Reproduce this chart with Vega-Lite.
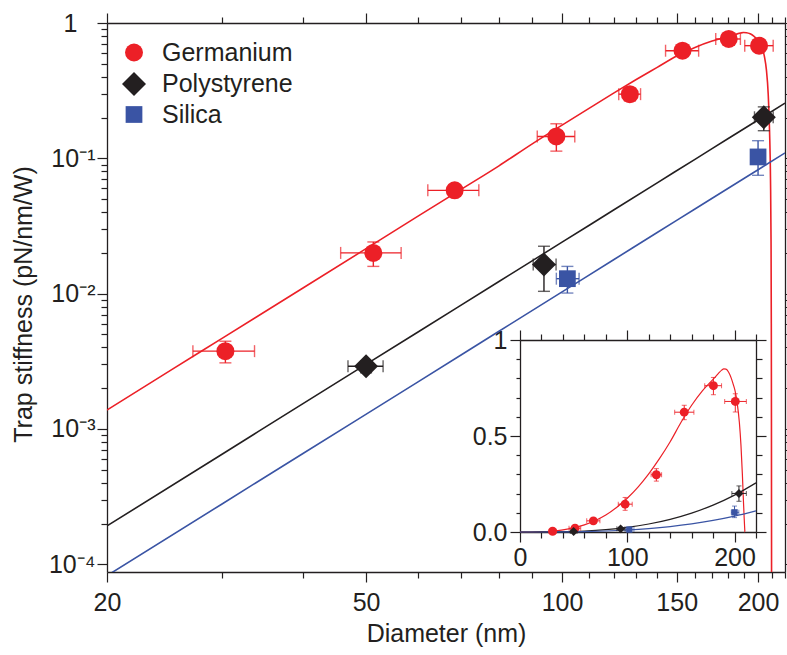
{
  "$schema": "https://vega.github.io/schema/vega-lite/v6.json",
  "width": 678,
  "height": 549,
  "autosize": {"type": "none"},
  "padding": {"left": 107, "top": 23, "right": 2, "bottom": 83},
  "background": "white",
  "datasets": {
    "curves": [
      {"material": "Germanium", "d": 0, "k": 0},
      {"material": "Germanium", "d": 20, "k": 0.00138},
      {"material": "Germanium", "d": 25, "k": 0.0027},
      {"material": "Germanium", "d": 30, "k": 0.00465},
      {"material": "Germanium", "d": 40, "k": 0.011},
      {"material": "Germanium", "d": 50, "k": 0.0215},
      {"material": "Germanium", "d": 60, "k": 0.0372},
      {"material": "Germanium", "d": 70, "k": 0.059},
      {"material": "Germanium", "d": 80, "k": 0.088},
      {"material": "Germanium", "d": 90, "k": 0.128},
      {"material": "Germanium", "d": 100, "k": 0.176},
      {"material": "Germanium", "d": 110, "k": 0.234},
      {"material": "Germanium", "d": 120, "k": 0.303},
      {"material": "Germanium", "d": 130, "k": 0.382},
      {"material": "Germanium", "d": 140, "k": 0.47},
      {"material": "Germanium", "d": 150, "k": 0.57},
      {"material": "Germanium", "d": 160, "k": 0.66},
      {"material": "Germanium", "d": 170, "k": 0.735},
      {"material": "Germanium", "d": 180, "k": 0.795},
      {"material": "Germanium", "d": 185, "k": 0.826},
      {"material": "Germanium", "d": 188, "k": 0.843},
      {"material": "Germanium", "d": 190, "k": 0.85},
      {"material": "Germanium", "d": 192, "k": 0.848},
      {"material": "Germanium", "d": 194.5, "k": 0.832},
      {"material": "Germanium", "d": 197, "k": 0.8},
      {"material": "Germanium", "d": 199, "k": 0.765},
      {"material": "Germanium", "d": 200.5, "k": 0.735},
      {"material": "Germanium", "d": 202.5, "k": 0.67},
      {"material": "Germanium", "d": 204.5, "k": 0.57},
      {"material": "Germanium", "d": 206, "k": 0.45},
      {"material": "Germanium", "d": 207.3, "k": 0.3},
      {"material": "Germanium", "d": 208.3, "k": 0.16},
      {"material": "Germanium", "d": 209, "k": 0.07},
      {"material": "Germanium", "d": 209.4, "k": 0.025},
      {"material": "Germanium", "d": 209.6, "k": 0.006},
      {"material": "Germanium", "d": 209.7, "k": 0.0012},
      {"material": "Germanium", "d": 209.76, "k": 0.0002},
      {"material": "Germanium", "d": 209.8, "k": 0.00005},
      {"material": "Polystyrene", "d": 0, "k": 0},
      {"material": "Polystyrene", "d": 20, "k": 0.000192},
      {"material": "Polystyrene", "d": 30, "k": 0.000648},
      {"material": "Polystyrene", "d": 40, "k": 0.00154},
      {"material": "Polystyrene", "d": 60, "k": 0.00518},
      {"material": "Polystyrene", "d": 80, "k": 0.0123},
      {"material": "Polystyrene", "d": 100, "k": 0.024},
      {"material": "Polystyrene", "d": 120, "k": 0.0415},
      {"material": "Polystyrene", "d": 140, "k": 0.0659},
      {"material": "Polystyrene", "d": 160, "k": 0.0983},
      {"material": "Polystyrene", "d": 180, "k": 0.14},
      {"material": "Polystyrene", "d": 200, "k": 0.192},
      {"material": "Polystyrene", "d": 220, "k": 0.256},
      {"material": "Silica", "d": 0, "k": 0},
      {"material": "Silica", "d": 20, "k": 0.0000824},
      {"material": "Silica", "d": 30, "k": 0.000278},
      {"material": "Silica", "d": 40, "k": 0.000659},
      {"material": "Silica", "d": 60, "k": 0.00222},
      {"material": "Silica", "d": 80, "k": 0.00527},
      {"material": "Silica", "d": 100, "k": 0.0103},
      {"material": "Silica", "d": 120, "k": 0.0178},
      {"material": "Silica", "d": 140, "k": 0.0283},
      {"material": "Silica", "d": 160, "k": 0.0422},
      {"material": "Silica", "d": 180, "k": 0.0601},
      {"material": "Silica", "d": 200, "k": 0.0824},
      {"material": "Silica", "d": 220, "k": 0.1097}
    ],
    "points": [
      {"material": "Germanium", "d": 30.4, "dlo": 27.1, "dhi": 33.7, "k": 0.00376, "klo": 0.00308, "khi": 0.00445},
      {"material": "Germanium", "d": 51.3, "dlo": 45.7, "dhi": 56.6, "k": 0.02, "klo": 0.0159, "khi": 0.0241},
      {"material": "Germanium", "d": 68.4, "dlo": 62.2, "dhi": 74.5, "k": 0.058, "klo": 0.053, "khi": 0.063},
      {"material": "Germanium", "d": 98, "dlo": 91.6, "dhi": 104.6, "k": 0.145, "klo": 0.113, "khi": 0.18},
      {"material": "Germanium", "d": 127.1, "dlo": 122.2, "dhi": 132, "k": 0.298, "klo": 0.265, "khi": 0.33},
      {"material": "Germanium", "d": 153.1, "dlo": 144.2, "dhi": 162.1, "k": 0.624, "klo": 0.585, "khi": 0.66},
      {"material": "Germanium", "d": 180.3, "dlo": 172.2, "dhi": 187.9, "k": 0.762, "klo": 0.715, "khi": 0.805},
      {"material": "Germanium", "d": 200.7, "dlo": 190.8, "dhi": 211, "k": 0.68, "klo": 0.625, "khi": 0.72},
      {"material": "Polystyrene", "d": 50, "dlo": 46.9, "dhi": 53.1, "k": 0.00291, "klo": 0.0026, "khi": 0.0032},
      {"material": "Polystyrene", "d": 93.8, "dlo": 90.3, "dhi": 97.9, "k": 0.0164, "klo": 0.0104, "khi": 0.0224},
      {"material": "Polystyrene", "d": 204.1, "dlo": 197.5, "dhi": 211, "k": 0.201, "klo": 0.16, "khi": 0.24},
      {"material": "Silica", "d": 101.9, "dlo": 98, "dhi": 106.2, "k": 0.0129, "klo": 0.0101, "khi": 0.0159},
      {"material": "Silica", "d": 200, "dlo": 197, "dhi": 204, "k": 0.1024, "klo": 0.0749, "khi": 0.135}
    ]
  },
  "config": {
    "font": "Liberation Sans",
    "view": {"stroke": null},
    "axis": {
      "grid": false,
      "domainColor": "#231f20",
      "domainWidth": 1.3,
      "tickColor": "#231f20",
      "tickWidth": 1.2,
      "labelColor": "#231f20",
      "titleColor": "#231f20",
      "labelFont": "Liberation Sans",
      "titleFont": "Liberation Sans",
      "labelFontSize": 25,
      "titleFontSize": 25,
      "titleFontWeight": "normal",
      "labelFlush": false,
      "labelOverlap": false
    },
    "legend": {
      "labelFont": "Liberation Sans",
      "labelFontSize": 25,
      "labelColor": "#231f20",
      "labelOffset": 15,
      "rowPadding": 5,
      "padding": 0
    }
  },
  "resolve": {
    "scale": {"x": "independent", "y": "independent"},
    "axis": {"x": "independent", "y": "independent"},
    "legend": {"color": "independent", "shape": "independent", "size": "independent"}
  },
  "layer": [
    {
      "data": {"name": "curves"},
      "transform": [{"filter": "datum.d >= 20"}],
      "mark": {"type": "line", "interpolate": "monotone", "strokeWidth": 1.6, "clip": true},
      "encoding": {
        "x": {
          "field": "d", "type": "quantitative",
          "scale": {"type": "log", "domain": [20, 220], "nice": false},
          "axis": {
            "orient": "bottom",
            "title": "Diameter (nm)",
            "titleY": 61,
            "titleBaseline": "middle",
            "values": [20, 30, 40, 50, 60, 70, 80, 90, 100, 110, 120, 130, 140, 150, 160, 170, 180, 190, 200, 210, 220],
            "labelExpr": "indexof([20, 50, 100, 150, 200], datum.value) >= 0 ? '' + datum.value : ''",
            "tickSize": {"condition": {"test": "indexof([20, 50, 100, 150, 200], datum.value) >= 0", "value": 10}, "value": 6},
            "labelPadding": 8
          }
        },
        "y": {
          "field": "k", "type": "quantitative",
          "scale": {"type": "log", "domain": [0.0000877, 1], "nice": false},
          "axis": {
            "orient": "left",
            "title": "Trap stiffness (pN/nm/W)",
            "titleX": -84,
            "titleY": 281,
            "titleAngle": -90,
            "titleAlign": "center",
            "titleBaseline": "middle",
            "values": [0.0001, 0.0002, 0.0003, 0.0004, 0.0005, 0.0006, 0.0007, 0.0008, 0.0009, 0.001, 0.002, 0.003, 0.004, 0.005, 0.006, 0.007, 0.008, 0.009, 0.01, 0.02, 0.03, 0.04, 0.05, 0.06, 0.07, 0.08, 0.09, 0.1, 0.2, 0.3, 0.4, 0.5, 0.6, 0.7, 0.8, 0.9, 1],
            "labelExpr": "datum.value == 1 ? '1\u2800' : datum.value == 0.1 ? '10\u207b\u00b9' : datum.value == 0.01 ? '10\u207b\u00b2' : datum.value == 0.001 ? '10\u207b\u00b3' : datum.value == 0.0001 ? '10\u207b\u2074' : ''",
            "tickSize": {"condition": {"test": "indexof([0.0001, 0.001, 0.01, 0.1, 1], datum.value) >= 0", "value": 10}, "value": 6},
            "labelPadding": 2
          }
        },
        "color": {
          "field": "material", "type": "nominal",
          "scale": {"domain": ["Germanium", "Polystyrene", "Silica"], "range": ["#ec2027", "#231f20", "#3a54a4"]},
          "legend": null
        },
        "detail": {"field": "material"}
      }
    },
    {
      "data": {"name": "points"},
      "mark": {"type": "errorbar", "ticks": {"size": 12}, "thickness": 1.4},
      "encoding": {
        "x": {
          "field": "dlo", "type": "quantitative",
          "scale": {"type": "log", "domain": [20, 220], "nice": false},
          "axis": {
            "orient": "top", "title": null, "labels": false,
            "values": [20, 30, 40, 50, 60, 70, 80, 90, 100, 110, 120, 130, 140, 150, 160, 170, 180, 190, 200, 210, 220],
            "tickSize": {"condition": {"test": "indexof([20, 50, 100, 150, 200], datum.value) >= 0", "value": 10}, "value": 6}
          }
        },
        "x2": {"field": "dhi"},
        "y": {
          "field": "k", "type": "quantitative",
          "scale": {"type": "log", "domain": [0.0000877, 1], "nice": false},
          "axis": {
            "orient": "right", "title": null, "labels": false,
            "values": [0.0001, 0.0002, 0.0003, 0.0004, 0.0005, 0.0006, 0.0007, 0.0008, 0.0009, 0.001, 0.002, 0.003, 0.004, 0.005, 0.006, 0.007, 0.008, 0.009, 0.01, 0.02, 0.03, 0.04, 0.05, 0.06, 0.07, 0.08, 0.09, 0.1, 0.2, 0.3, 0.4, 0.5, 0.6, 0.7, 0.8, 0.9, 1],
            "tickSize": {"condition": {"test": "indexof([0.0001, 0.001, 0.01, 0.1, 1], datum.value) >= 0", "value": 10}, "value": 6}
          }
        },
        "color": {"field": "material", "type": "nominal", "legend": null}
      }
    },
    {
      "data": {"name": "points"},
      "mark": {"type": "errorbar", "ticks": {"size": 12}, "thickness": 1.4},
      "encoding": {
        "x": {
          "field": "d", "type": "quantitative",
          "scale": {"type": "log", "domain": [20, 220], "nice": false},
          "axis": null
        },
        "y": {
          "field": "klo", "type": "quantitative",
          "scale": {"type": "log", "domain": [0.0000877, 1], "nice": false},
          "axis": null
        },
        "y2": {"field": "khi"},
        "color": {"field": "material", "type": "nominal", "legend": null}
      }
    },
    {
      "data": {"name": "points"},
      "mark": {"type": "point", "filled": true, "opacity": 1, "strokeWidth": 0},
      "encoding": {
        "x": {
          "field": "d", "type": "quantitative",
          "scale": {"type": "log", "domain": [20, 220], "nice": false},
          "axis": null
        },
        "y": {
          "field": "k", "type": "quantitative",
          "scale": {"type": "log", "domain": [0.0000877, 1], "nice": false},
          "axis": null
        },
        "color": {
          "field": "material", "type": "nominal",
          "legend": {"title": null, "orient": "none", "legendX": 14, "legendY": 17}
        },
        "shape": {
          "field": "material", "type": "nominal",
          "scale": {"domain": ["Germanium", "Polystyrene", "Silica"], "range": ["circle", "diamond", "square"]},
          "legend": {"title": null, "orient": "none", "legendX": 14, "legendY": 17}
        },
        "size": {
          "field": "material", "type": "nominal",
          "scale": {"type": "ordinal", "domain": ["Germanium", "Polystyrene", "Silica"], "range": [324, 576, 280]},
          "legend": {"title": null, "orient": "none", "legendX": 14, "legendY": 17}
        }
      }
    },
    {
      "data": {"name": "curves"},
      "mark": {"type": "line", "interpolate": "monotone", "strokeWidth": 1.2},
      "encoding": {
        "x": {
          "field": "d", "type": "quantitative",
          "scale": {"type": "linear", "domain": [0, 220], "nice": false, "zero": false, "range": [413, 649]},
          "axis": {
            "orient": "bottom", "offset": -40, "title": null,
            "values": [0, 20, 40, 60, 80, 100, 120, 140, 160, 180, 200, 220],
            "labelExpr": "indexof([0, 100, 200], datum.value) >= 0 ? '' + datum.value : ''",
            "tickSize": {"condition": {"test": "indexof([0, 100, 200], datum.value) >= 0", "value": 10}, "value": 6},
            "labelPadding": 3
          }
        },
        "y": {
          "field": "k", "type": "quantitative",
          "scale": {"type": "linear", "domain": [0, 1], "nice": false, "zero": false, "range": [509, 317]},
          "axis": {
            "orient": "left", "offset": -413, "title": null,
            "values": [0, 0.1, 0.2, 0.3, 0.4, 0.5, 0.6, 0.7, 0.8, 0.9, 1],
            "labelExpr": "datum.value == 0 ? '0.0' : datum.value == 0.5 ? '0.5' : datum.value == 1 ? '1' : ''",
            "tickSize": {"condition": {"test": "indexof([0, 0.5, 1], datum.value) >= 0", "value": 10}, "value": 4},
            "labelPadding": 3
          }
        },
        "color": {"field": "material", "type": "nominal", "legend": null},
        "detail": {"field": "material"}
      }
    },
    {
      "data": {"name": "points"},
      "mark": {"type": "errorbar", "ticks": {"size": 5}, "thickness": 1},
      "encoding": {
        "x": {
          "field": "dlo", "type": "quantitative",
          "scale": {"type": "linear", "domain": [0, 220], "nice": false, "zero": false, "range": [413, 649]},
          "axis": {
            "orient": "top", "offset": -317, "title": null, "labels": false,
            "values": [0, 20, 40, 60, 80, 100, 120, 140, 160, 180, 200, 220],
            "tickSize": {"condition": {"test": "indexof([0, 100, 200], datum.value) >= 0", "value": 10}, "value": 6}
          }
        },
        "x2": {"field": "dhi"},
        "y": {
          "field": "k", "type": "quantitative",
          "scale": {"type": "linear", "domain": [0, 1], "nice": false, "zero": false, "range": [509, 317]},
          "axis": {
            "orient": "right", "offset": -29, "title": null, "labels": false,
            "values": [0, 0.1, 0.2, 0.3, 0.4, 0.5, 0.6, 0.7, 0.8, 0.9, 1],
            "tickSize": {"condition": {"test": "indexof([0, 0.5, 1], datum.value) >= 0", "value": 10}, "value": 6}
          }
        },
        "color": {"field": "material", "type": "nominal", "legend": null}
      }
    },
    {
      "data": {"name": "points"},
      "mark": {"type": "errorbar", "ticks": {"size": 5}, "thickness": 1},
      "encoding": {
        "x": {
          "field": "d", "type": "quantitative",
          "scale": {"type": "linear", "domain": [0, 220], "nice": false, "zero": false, "range": [413, 649]},
          "axis": null
        },
        "y": {
          "field": "klo", "type": "quantitative",
          "scale": {"type": "linear", "domain": [0, 1], "nice": false, "zero": false, "range": [509, 317]},
          "axis": null
        },
        "y2": {"field": "khi"},
        "color": {"field": "material", "type": "nominal", "legend": null}
      }
    },
    {
      "data": {"name": "points"},
      "mark": {"type": "point", "filled": true, "opacity": 1, "strokeWidth": 0},
      "encoding": {
        "x": {
          "field": "d", "type": "quantitative",
          "scale": {"type": "linear", "domain": [0, 220], "nice": false, "zero": false, "range": [413, 649]},
          "axis": null
        },
        "y": {
          "field": "k", "type": "quantitative",
          "scale": {"type": "linear", "domain": [0, 1], "nice": false, "zero": false, "range": [509, 317]},
          "axis": null
        },
        "color": {"field": "material", "type": "nominal", "legend": null},
        "shape": {"field": "material", "type": "nominal", "legend": null},
        "size": {"condition": {"test": "datum.material == 'Silica'", "value": 40}, "value": 80}
      }
    }
  ]
}
